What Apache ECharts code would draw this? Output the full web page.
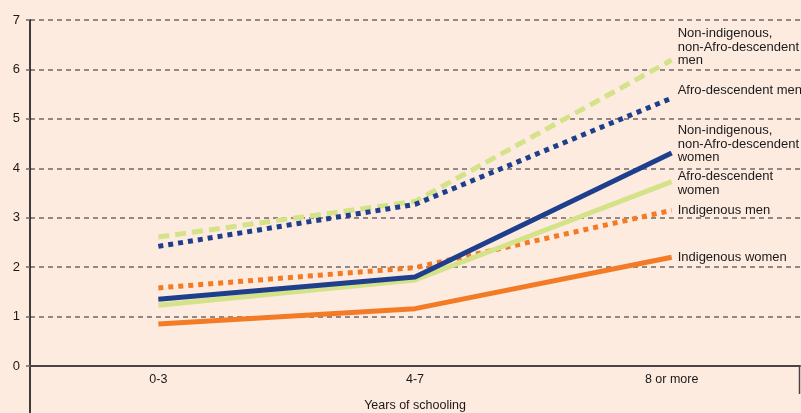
<!DOCTYPE html>
<html>
<head>
<meta charset="utf-8">
<script src="https://cdn.jsdelivr.net/npm/echarts@6/dist/echarts.min.js"></script>
<style>
html,body{margin:0;padding:0;background:#FDEBE0;}
#c{width:801px;height:413px;}
</style>
</head>
<body>
<div id="c"></div>
<script>
var categories = ['0-3', '4-7', '8 or more'];
var yTicks = [0, 1, 2, 3, 4, 5, 6, 7];
var seriesNames = [
  'Non-indigenous,\nnon-Afro-descendent\nmen',
  'Afro-descendent men',
  'Non-indigenous,\nnon-Afro-descendent\nwomen',
  'Afro-descendent\nwomen',
  'Indigenous men',
  'Indigenous women'
];
var nonIndMen = [2.61, 3.33, 6.19];
var afroMen = [2.42, 3.27, 5.42];
var nonIndWomen = [1.35, 1.80, 4.31];
var afroWomen = [1.23, 1.74, 3.73];
var indMen = [1.58, 1.99, 3.15];
var indWomen = [0.85, 1.16, 2.20];

var NAVY = '#1E3F8C', GREEN = '#D4E389', ORANGE = '#F47B25';
var FONT = 'Liberation Sans, Arial, sans-serif';

function mk(name, data, color, type, dy, z) {
  return {
    name: name, type: 'line', data: data, symbol: 'none', z: z,
    lineStyle: { color: color, width: 5, type: type, cap: 'butt' },
    endLabel: {
      show: true, formatter: name, color: '#1a1a1a', fontSize: 13,
      fontFamily: FONT, lineHeight: 13.5,
      distance: 6, offset: [0, dy], align: 'left'
    },
    silent: true, animation: false
  };
}

var chart = echarts.init(document.getElementById('c'));
chart.setOption({
  backgroundColor: '#FDEBE0',
  animation: false,
  grid: { left: 30, right: 1, top: 20, bottom: 47, containLabel: false, outerBoundsMode: 'none' },
  xAxis: {
    type: 'category', data: categories, boundaryGap: true,
    axisLine: { lineStyle: { color: '#4b4443', width: 2 } },
    axisTick: { show: false },
    axisLabel: { color: '#1a1a1a', fontSize: 12.5, margin: 7, fontFamily: FONT },
    name: 'Years of schooling', nameLocation: 'middle', nameGap: 33,
    nameTextStyle: { color: '#1a1a1a', fontSize: 12.5, fontFamily: FONT }
  },
  yAxis: {
    type: 'value', min: yTicks[0], max: yTicks[yTicks.length - 1], interval: 1,
    axisLine: { show: true, lineStyle: { color: '#000', width: 1.5 } },
    axisTick: { show: true, length: 4, lineStyle: { color: '#6f6a68', width: 1.5 } },
    axisLabel: { color: '#1a1a1a', fontSize: 13, margin: 10, fontFamily: FONT },
    splitLine: { show: true, lineStyle: { color: '#6f6a68', width: 1.5, type: [5, 4] } }
  },
  series: [
    mk(seriesNames[0], nonIndMen, GREEN, [11, 6], -13, 2),
    mk(seriesNames[1], afroMen, NAVY, [5, 5], -8, 3),
    mk(seriesNames[2], nonIndWomen, NAVY, 'solid', -9, 4),
    mk(seriesNames[3], afroWomen, GREEN, 'solid', 2, 3),
    mk(seriesNames[4], indMen, ORANGE, [5, 5], 0, 2),
    mk(seriesNames[5], indWomen, ORANGE, 'solid', 0, 3)
  ],
  graphic: [
    { type: 'line', shape: { x1: 30, y1: 366, x2: 30, y2: 413 }, style: { stroke: '#000', lineWidth: 1.5 }, silent: true },
    { type: 'line', shape: { x1: 799.5, y1: 366, x2: 799.5, y2: 394 }, style: { stroke: '#4b4443', lineWidth: 1.5 }, silent: true }
  ]
});
</script>
</body>
</html>
